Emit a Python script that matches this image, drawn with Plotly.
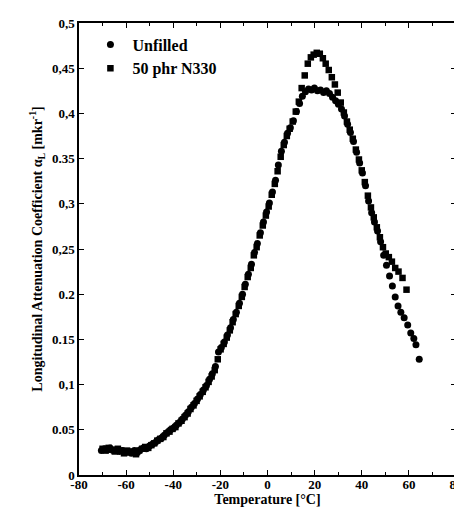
import plotly.graph_objects as go

# unfilled rubber (circles)
temp_unfilled = [-70.5, -69.2, -68.0, -66.8, -65.5, -64.1, -62.9, -61.6, -60.3, -59.0, -57.8, -56.5, -55.2, -54.0,
                 -52.7, -51.4, -50.1, -48.9, -47.6, -46.3, -45.0, -43.8, -42.5, -41.2, -39.9, -38.7, -37.4, -36.1,
                 -34.8, -33.6, -32.3, -31.0, -29.7, -28.5, -27.2, -25.9, -24.6, -23.4, -22.1, -20.8, -19.6, -18.3,
                 -17.0, -15.7, -14.5, -13.2, -11.9, -10.6, -9.4, -8.1, -6.8, -5.5, -4.3, -3.0, -1.7, -0.4, 0.8,
                 2.1, 3.4, 4.6, 5.9, 7.2, 8.5, 9.7, 11.0, 12.3, 13.6, 14.8, 16.1, 17.4, 18.7, 19.9, 21.2, 22.5,
                 23.8, 25.0, 26.3, 27.6, 28.9, 30.1, 31.4, 32.7, 34.0, 35.2, 36.5, 37.8, 39.1, 40.3, 41.6, 42.9,
                 44.2, 45.4, 46.7, 48.0, 49.3, 50.5, 51.8, 53.0, 54.2, 55.4, 56.6, 58.0, 59.5, 60.8, 62.1, 63.0, 64.4]
alpha_unfilled = [0.027, 0.029, 0.028, 0.030, 0.027, 0.028, 0.026, 0.027, 0.025, 0.026, 0.024, 0.027, 0.025, 0.028,
                  0.030, 0.029, 0.032, 0.034, 0.036, 0.039, 0.041, 0.044, 0.047, 0.050, 0.052, 0.055, 0.058, 0.062,
                  0.066, 0.070, 0.075, 0.079, 0.084, 0.089, 0.094, 0.099, 0.106, 0.112, 0.120, 0.136, 0.141, 0.147,
                  0.155, 0.163, 0.172, 0.180, 0.190, 0.200, 0.211, 0.222, 0.233, 0.246, 0.256, 0.268, 0.280, 0.291,
                  0.301, 0.313, 0.326, 0.343, 0.358, 0.368, 0.378, 0.384, 0.392, 0.402, 0.411, 0.419, 0.424, 0.427,
                  0.426, 0.428, 0.425, 0.426, 0.423, 0.425, 0.422, 0.418, 0.414, 0.410, 0.405, 0.397, 0.388, 0.379,
                  0.369, 0.357, 0.345, 0.334, 0.320, 0.303, 0.290, 0.280, 0.270, 0.258, 0.243, 0.232, 0.220, 0.209,
                  0.197, 0.187, 0.180, 0.174, 0.166, 0.157, 0.151, 0.144, 0.128]

# 50 phr N330 (squares)
temp_n330 = [-70.0, -68.7, -67.4, -66.1, -64.8, -63.5, -62.2, -60.9, -59.6, -58.3, -57.1, -55.8, -54.5, -53.2,
             -51.9, -50.6, -49.3, -48.1, -46.8, -45.5, -44.2, -42.9, -41.6, -40.3, -39.1, -37.8, -36.5, -35.2,
             -33.9, -32.7, -31.4, -30.1, -28.8, -27.5, -26.3, -25.0, -23.7, -22.4, -21.1, -19.9, -18.6, -17.3,
             -16.0, -14.8, -13.5, -12.2, -10.9, -9.7, -8.4, -7.1, -5.8, -4.6, -3.3, -2.0, -0.7, 0.5, 1.8, 3.1,
             4.3, 5.6, 6.9, 8.2, 9.4, 10.7, 12.0, 13.3, 14.5, 15.8, 17.1, 18.4, 19.6, 20.9, 22.2, 23.5, 24.7,
             26.0, 27.3, 28.6, 29.8, 31.1, 32.4, 33.7, 34.9, 36.2, 37.5, 38.8, 40.0, 41.3, 42.6, 43.9, 45.1,
             46.4, 47.7, 49.0, 50.2, 51.5, 52.8, 54.2, 55.6, 57.3, 59.0]
alpha_n330 = [0.029, 0.027, 0.030, 0.028, 0.026, 0.029, 0.027, 0.024, 0.027, 0.025, 0.026, 0.023, 0.027, 0.029,
              0.031, 0.030, 0.033, 0.035, 0.038, 0.040, 0.042, 0.046, 0.048, 0.051, 0.053, 0.057, 0.060, 0.064,
              0.068, 0.073, 0.077, 0.082, 0.087, 0.092, 0.097, 0.103, 0.109, 0.116, 0.128, 0.139, 0.145, 0.152,
              0.160, 0.169, 0.178, 0.187, 0.197, 0.208, 0.219, 0.229, 0.243, 0.252, 0.265, 0.276, 0.287, 0.297,
              0.310, 0.322, 0.336, 0.352, 0.365, 0.375, 0.383, 0.391, 0.402, 0.413, 0.428, 0.442, 0.455, 0.462,
              0.465, 0.467, 0.466, 0.461, 0.455, 0.448, 0.440, 0.432, 0.423, 0.412, 0.401, 0.391, 0.382, 0.372,
              0.360, 0.349, 0.337, 0.324, 0.309, 0.296, 0.285, 0.274, 0.263, 0.252, 0.245, 0.241, 0.236, 0.229,
              0.225, 0.218, 0.205]

x_ticks = [-80, -60, -40, -20, 0, 20, 40, 60, 80]
y_ticks = [0, 0.05, 0.1, 0.15, 0.2, 0.25, 0.3, 0.35, 0.4, 0.45, 0.5]
y_labels = ['0', '0.05', '0,1', '0.15', '0.2', '0,25', '0,3', '0.35', '0,4', '0,45', '0,5']

serif = 'Liberation Serif'

fig = go.Figure()
fig.add_trace(go.Scatter(x=temp_unfilled, y=alpha_unfilled, mode='markers', name='Unfilled',
                         marker=dict(symbol='circle', size=7, color='black')))
fig.add_trace(go.Scatter(x=temp_n330, y=alpha_n330, mode='markers', name='50 phr N330',
                         marker=dict(symbol='square', size=6.5, color='black')))

axis_common = dict(showline=True, linecolor='black', linewidth=1.5, mirror='ticks', ticks='inside',
                   ticklen=5, tickcolor='black', showgrid=False, zeroline=False, ticklabeloverflow='allow',
                   tickfont=dict(family=serif, size=13, color='black', weight='bold'),
                   minor=dict(ticks='inside', ticklen=3, tickcolor='black'))

fig.update_xaxes(range=[-80, 80], tickvals=x_ticks, ticktext=[str(t) for t in x_ticks],
                 ticklabelstandoff=-3,
                 title=dict(text='Temperature [°C]', font=dict(family=serif, size=14, color='black', weight='bold'),
                            standoff=0),
                 **axis_common)
fig.update_yaxes(range=[0, 0.5], tickvals=y_ticks, ticktext=y_labels,
                 title=dict(text='Longitudinal Attenuation Coefficient α<sub>L</sub> [mkr<sup>-1</sup>]',
                            font=dict(family=serif, size=14, color='black', weight='bold'), standoff=6),
                 **axis_common)

fig.update_layout(width=462, height=512, margin=dict(l=71, r=7, t=15, b=45),
                  plot_bgcolor='white', paper_bgcolor='white',
                  legend=dict(x=0.025, y=0.99, xanchor='left', yanchor='top', bgcolor='rgba(0,0,0,0)',
                              font=dict(family=serif, size=16, color='black', weight='bold'),
                              itemwidth=34, tracegroupgap=0))

fig.write_html("out.html")
